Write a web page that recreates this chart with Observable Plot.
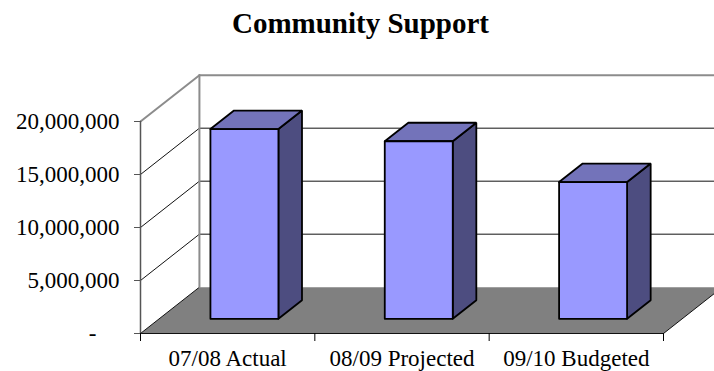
<!DOCTYPE html>
<html><head><meta charset="utf-8">
<script src="https://cdn.jsdelivr.net/npm/d3@7"></script>
<script src="https://cdn.jsdelivr.net/npm/@observablehq/plot@0.6"></script>
<style>
body{margin:0;background:#fff;}
#title{font-family:"Liberation Serif","Times New Roman",serif;font-weight:bold;font-size:29px;line-height:29px;height:50px;box-sizing:border-box;padding-top:9px;padding-left:7px;text-align:center;width:714px;color:#000;}
#chart svg{display:block;font-family:"Liberation Serif","Times New Roman",serif !important;font-size:23px !important;}
#chart svg text{font-family:"Liberation Serif","Times New Roman",serif !important;}
</style></head><body>
<div id="title"></div>
<div id="chart"></div>
<script>
// ---- data ----
const title = "Community Support";
const categories = ["07/08 Actual", "08/09 Projected", "09/10 Budgeted"];
const values = [17900000, 16750000, 12900000];
const yTicks = [0, 5000000, 10000000, 15000000, 20000000];
const yTickLabels = ["-", "5,000,000", "10,000,000", "15,000,000", "20,000,000"];

// ---- 3D geometry (oblique projection, in data units) ----
const n = categories.length;
const yMax = yTicks[yTicks.length - 1];
const DX = 0.338;      // wall depth, in category units
const DY = 4370000;    // wall depth, in value units
const F0 = 0.317, F1 = 0.717; // bar front/back depth fractions
const A = 0.294, W = 0.39;    // bar offset and width inside a category
const serif = "'Liberation Serif','Times New Roman',serif";

const P = (u, v, d) => ({x: u + d * DX, y: v + d * DY});
function poly(id, pts, closed = true) {
  const out = pts.map(([u, v, d]) => ({id, ...P(u, v, d)}));
  if (closed) out.push({...out[0]});
  return out;
}

const frontFaces = [], topFaces = [], sideFaces = [];
values.forEach((v, i) => {
  const L = i + A, R = i + A + W;
  frontFaces.push(...poly("f" + i, [[L, 0, F0], [R, 0, F0], [R, v, F0], [L, v, F0]]));
  topFaces.push(...poly("t" + i, [[L, v, F0], [R, v, F0], [R, v, F1], [L, v, F1]]));
  sideFaces.push(...poly("s" + i, [[R, 0, F0], [R, 0, F1], [R, v, F1], [R, v, F0]]));
});
const floorPoly = poly("floor", [[0, 0, 0], [n, 0, 0], [n, 0, 1], [0, 0, 1]]);

const darkLines = [], grayLines = [];
yTicks.forEach((t, k) => {
  const target = t === yMax ? grayLines : darkLines;
  target.push(...poly("ld" + k, [[0, t, 0], [0, t, 1]], false));
  if (t > 0) target.push(...poly("bh" + k, [[0, t, 1], [n, t, 1]], false));
});
darkLines.push(...poly("floorFront", [[0, 0, 0], [n, 0, 0]], false));
darkLines.push(...poly("floorRight", [[n, 0, 0], [n, 0, 1]], false));
grayLines.push(...poly("backV", [[0, 0, 1], [0, yMax, 1]], false));
const axisLine = poly("axisV", [[0, 0, 0], [0, yMax, 0]], false);

document.getElementById("title").textContent = title;

const chart = Plot.plot({
  width: 714,
  height: 321,
  marginLeft: 140,
  marginRight: 51,
  marginTop: 71,
  marginBottom: 38,
  style: {fontFamily: serif, fontSize: "23px", color: "#000", background: "#fff", overflow: "hidden"},
  x: {type: "linear", domain: [0, n]},
  y: {type: "linear", domain: [0, yMax]},
  marks: [
    Plot.line(floorPoly, {x: "x", y: "y", z: "id", fill: "#808080", stroke: "none"}),
    Plot.line(darkLines, {x: "x", y: "y", z: "id", stroke: "#111", strokeWidth: 1}),
    Plot.line(grayLines, {x: "x", y: "y", z: "id", stroke: "#8c8c8c", strokeWidth: 2}),
    Plot.line(axisLine, {x: "x", y: "y", z: "id", stroke: "#555", strokeWidth: 1.5}),
    Plot.line(sideFaces, {x: "x", y: "y", z: "id", fill: "#4d4d80", stroke: "#000", strokeWidth: 1.8, strokeLinejoin: "miter"}),
    Plot.line(topFaces, {x: "x", y: "y", z: "id", fill: "#7373ba", stroke: "#000", strokeWidth: 1.8, strokeLinejoin: "miter"}),
    Plot.line(frontFaces, {x: "x", y: "y", z: "id", fill: "#9999ff", stroke: "#000", strokeWidth: 1.8, strokeLinejoin: "miter"}),
    Plot.axisY({ticks: yTicks, tickSize: 6, tickPadding: 15, fontSize: 23, fontFamily: serif, stroke: "#555",
      tickFormat: d => { const s = yTickLabels[yTicks.indexOf(d)]; return s === "-" ? s + "\u00a0\u00a0\u00a0\u00a0" : s; },
      label: null}),
    Plot.axisX({ticks: d3.range(n + 1), tickSize: 8, tickFormat: () => "", stroke: "#000", label: null}),
    Plot.axisX({ticks: categories.map((c, i) => i + 0.5), tickSize: 0, tickPadding: 16, fontSize: 23, fontFamily: serif,
      tickFormat: d => categories[Math.floor(d)], label: null})
  ]
});
document.getElementById("chart").appendChild(chart);
</script>
</body></html>
